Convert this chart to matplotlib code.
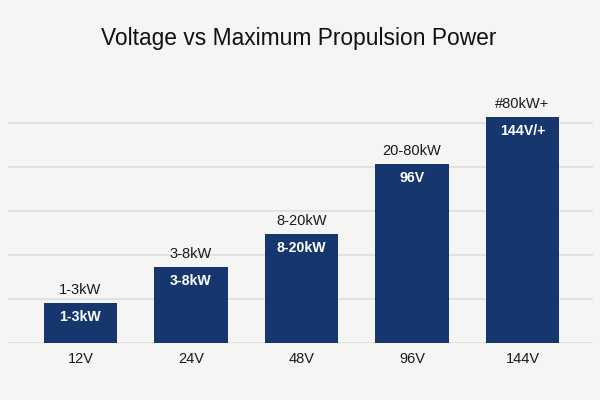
import matplotlib
matplotlib.use("Agg")
import matplotlib.pyplot as plt

categories = ["12V", "24V", "48V", "96V", "144V"]
values = [18.3, 34.5, 49.4, 81.4, 102.6]
top_labels = ["1-3kW", "3-8kW", "8-20kW", "20-80kW", "#80kW+"]
inner_labels = ["1-3kW", "3-8kW", "8-20kW", "96V", "144V/+"]

plt.rcParams['font.family'] = ['Liberation Sans', 'DejaVu Sans']
bg = "#f5f5f3"
bar_color = "#16376d"

fig = plt.figure(figsize=(6, 4), dpi=100, facecolor=bg)
ax = fig.add_axes([0.0133, 0.1425, 0.975, 0.6075])
ax.set_facecolor(bg)

x = list(range(len(categories)))
bars = ax.bar(x, values, width=0.665, color=bar_color, zorder=3)

ax.set_xlim(-0.656, 4.638)
ax.set_ylim(0, 110.5)
ax.set_yticks([0, 20, 40, 60, 80, 100])
ax.yaxis.grid(True, color="#dedede", linewidth=1.2, zorder=0)
ax.tick_params(axis='y', left=False, labelleft=False)
ax.tick_params(axis='x', bottom=False, labelsize=10.5, colors="#1a1a1a", pad=3)
ax.set_xticks(x)
ax.set_xticklabels(categories)
for s in ax.spines.values():
    s.set_visible(False)

for xi, v, tl, il in zip(x, values, top_labels, inner_labels):
    ax.annotate(tl, (xi, v), xytext=(0, 13), textcoords="offset pixels",
                ha="center", va="center", fontsize=10.5, color="#1a1a1a")
    ax.annotate(il, (xi, v), xytext=(0, -14), textcoords="offset pixels",
                ha="center", va="center", fontsize=10.2, color="white",
                fontweight="bold")

fig.text(0.4975, 0.905, "Voltage vs Maximum Propulsion Power", ha="center",
         va="center", fontsize=16.4, color="#111111")

fig.savefig("out.png", dpi=100, facecolor=bg)
